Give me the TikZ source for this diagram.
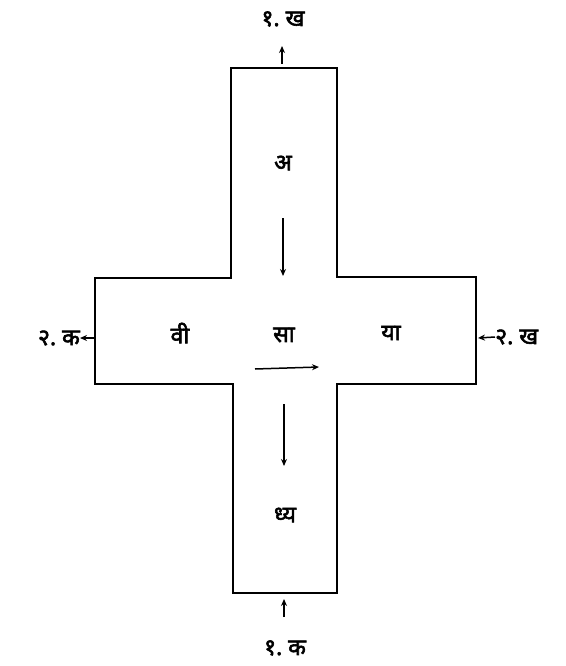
\documentclass[tikz,border=0pt]{standalone}
\usepackage{fontspec}
\newfontfamily\deva[Script=Devanagari,FakeBold=2.5]{Noto Sans}
\usetikzlibrary{arrows.meta}
\begin{document}
\begin{tikzpicture}[x=1pt,y=-1pt,
  outline/.style={line width=2.8pt,line join=miter},
  lbl/.style={font=\deva\fontsize{23}{26}\selectfont,inner sep=0pt},
  arr/.style={line width=1.5pt,-{Stealth[length=7pt,width=6pt]}}]
\useasboundingbox (0,0) rectangle (565,666);
% cross outline
\draw[outline] (231,68) -- (337,68) -- (337,277) -- (476,277) -- (476,384)
  -- (337,384) -- (337,593) -- (233,593) -- (233,384) -- (95,384)
  -- (95,278) -- (231,278) -- cycle;
% inner labels
\node[lbl] (a) at (283,163) {अ};
\node[lbl] (vi) at (180,333) {वी};
\node[lbl] (sa) at (284,335) {सा};
\node[lbl] (ya) at (391,333) {या};
\node[lbl] (dhya) at (285,515) {ध्य};
% inner arrows
\coordinate (d1s) at (283,218);
\coordinate (d1e) at (283,276);
\draw[arr] (d1s) -- (d1e);
\coordinate (rs) at (255,369);
\coordinate (re) at (319,367);
\draw[arr] (rs) -- (re);
\coordinate (d2s) at (284,404);
\coordinate (d2e) at (284,466);
\draw[arr] (d2s) -- (d2e);
% outer labels
\node[lbl] (t) at (283,19) {१.\hspace{6pt}ख};
\node[lbl] (b) at (285,648) {१.\hspace{6pt}क};
\node[lbl,anchor=east] (l) at (80,338) {२.\hspace{6pt}क};
\node[lbl,anchor=west] (r) at (495,337) {२.\hspace{6pt}ख};
% outer arrows
\coordinate (ts) at (282,64);
\coordinate (te) at (282,46);
\draw[arr] (ts) -- (te);
\coordinate (bs) at (284,617);
\coordinate (be) at (284,599);
\draw[arr] (bs) -- (be);
\coordinate (ls) at (94,338);
\draw[arr] (ls) -- (l.east);
\coordinate (re2) at (478,338);
\draw[arr] (r.west) -- (re2);
\end{tikzpicture}
\end{document}
